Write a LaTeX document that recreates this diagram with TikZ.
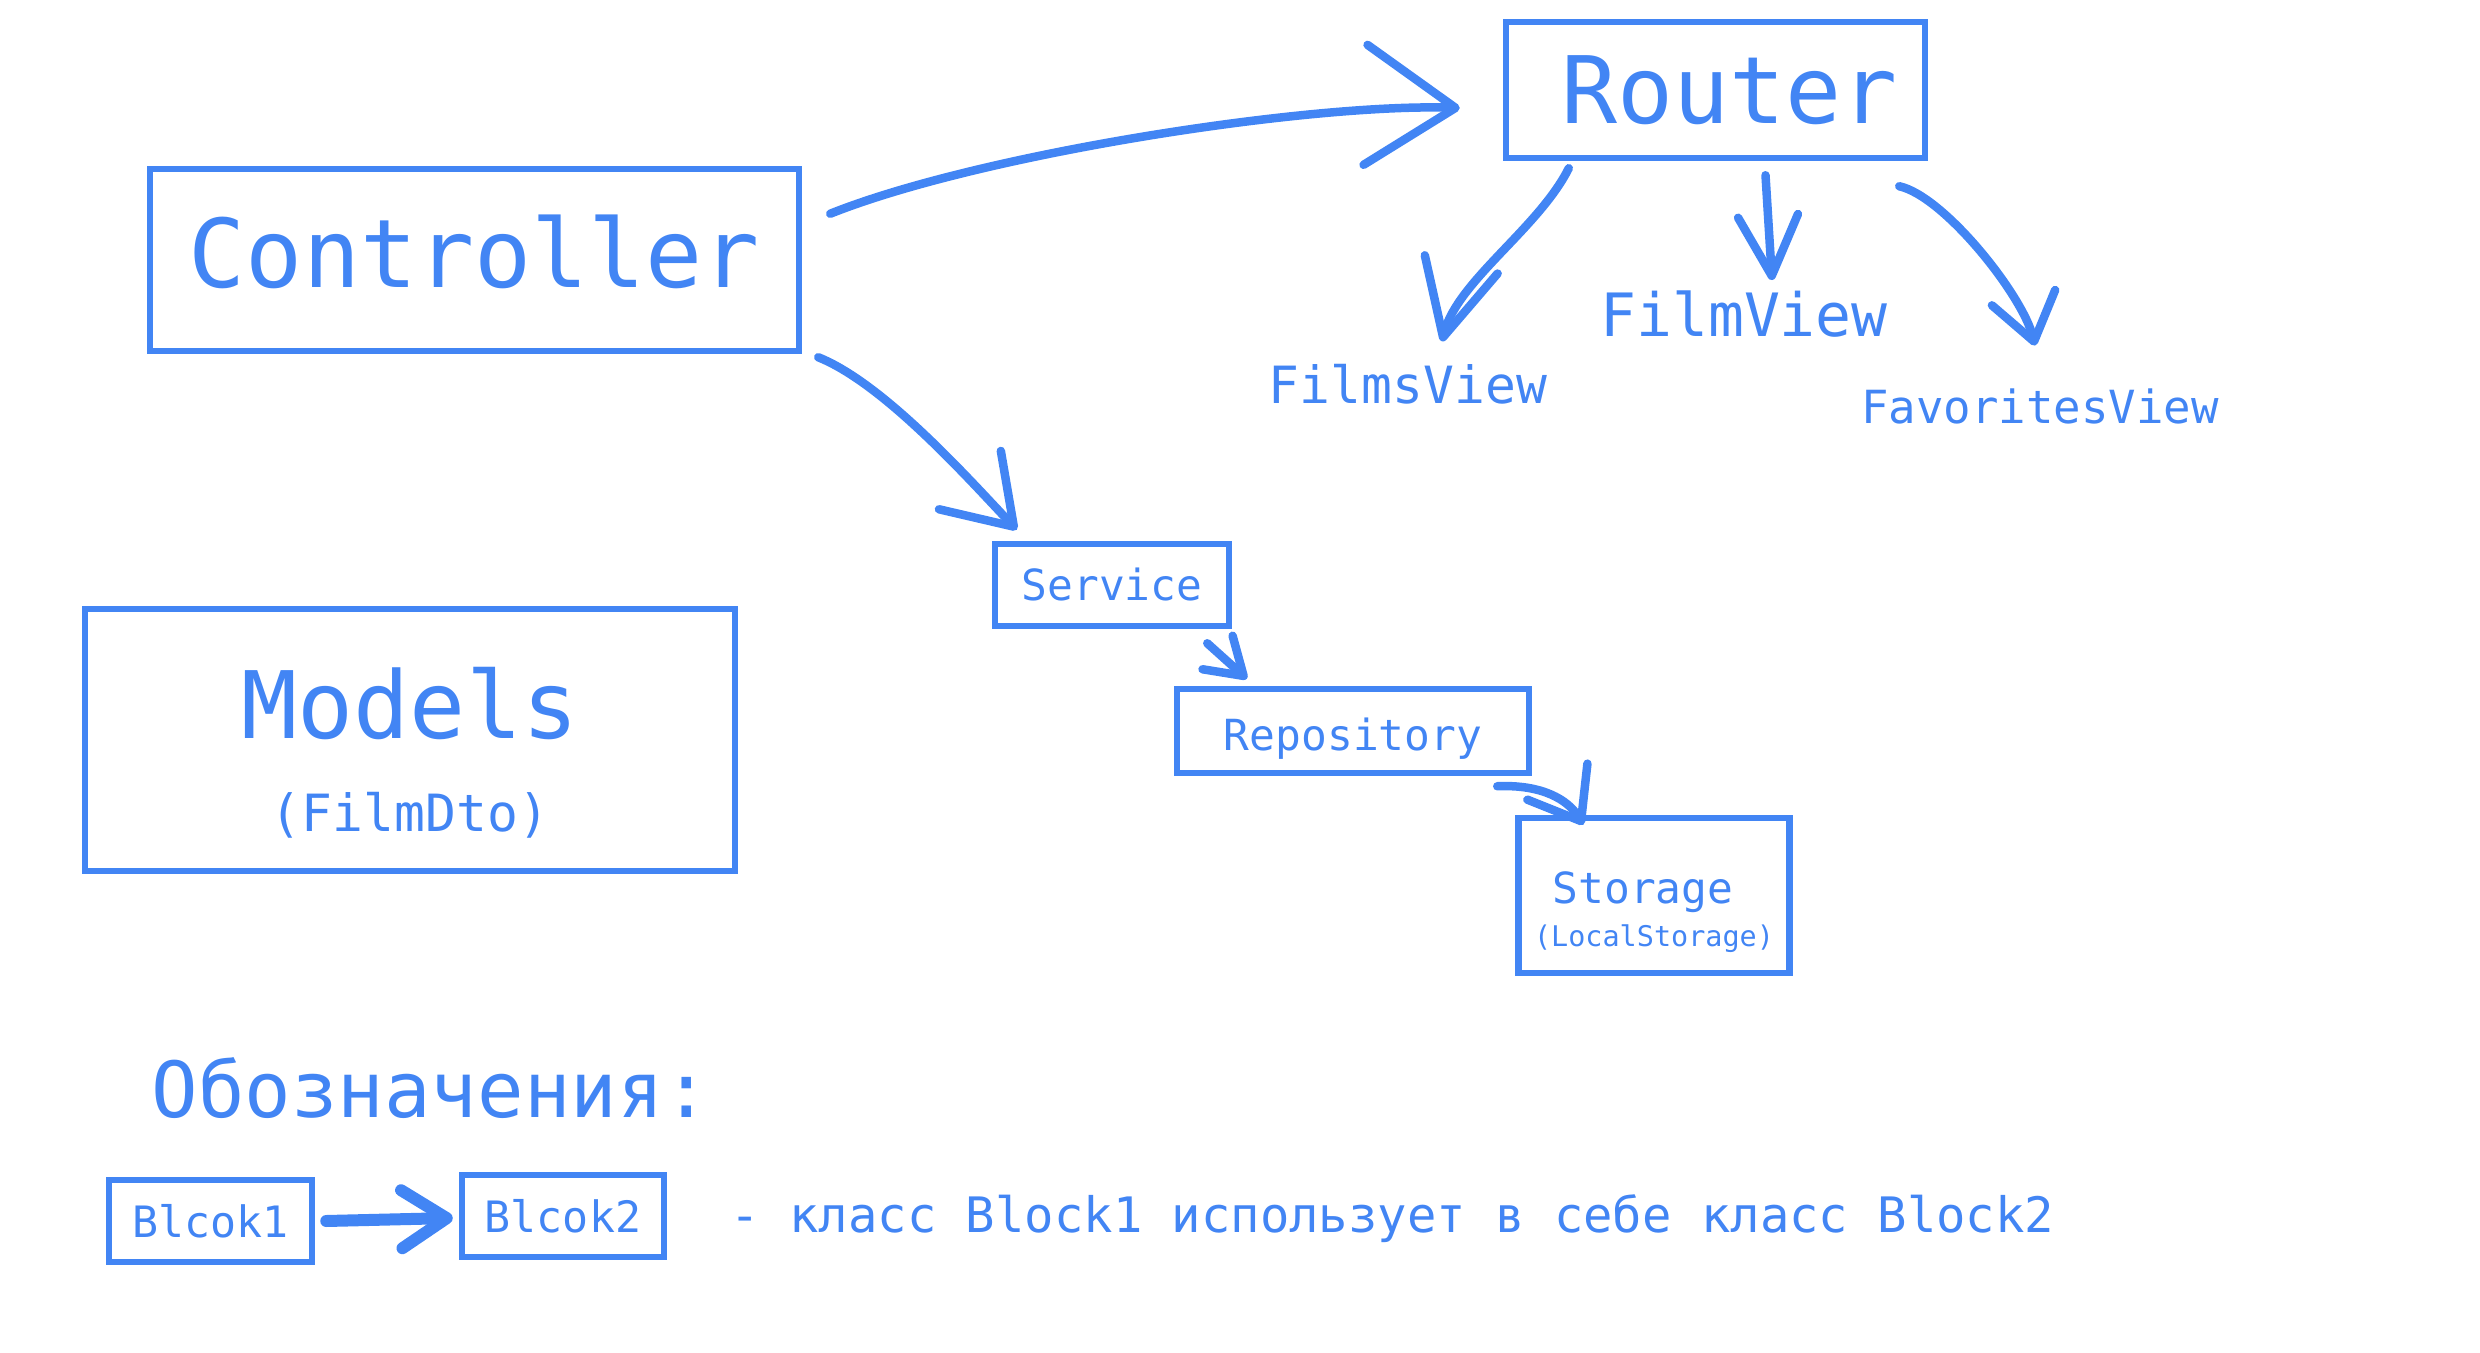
\documentclass[tikz,border=0pt]{standalone}
\usepackage{fontspec}
\setmainfont{DejaVu Sans Mono}
\usetikzlibrary{arrows.meta}
\usetikzlibrary{calc}
\definecolor{gblue}{RGB}{66,133,244}
\newcommand{\fsz}[1]{\fontsize{#1}{#1}\selectfont}
\tikzset{box/.style = {draw=gblue, line width=0.65mm, text=gblue, inner sep=0pt}}
\tikzset{lbl/.style = {text=gblue, inner sep=0pt}}
\tikzset{edge/.style 2 args = {draw=gblue, line width=0.85mm, line cap=round, line join=round,
    -{Straight Barb[round, length=#1, width=#2]}}}

\begin{document}
\begin{tikzpicture}[x=0.1mm, y=-0.1mm]
    \useasboundingbox (0,0) rectangle (2480,1353);

    % Boxes
    \node[box, font=\fsz{27pt}, text depth=1.8mm, minimum width=64.9mm, minimum height=18.2mm] (ctrl) at (474.5,260) {Controller};
    \node[box, font=\fsz{26.5pt}, minimum width=41.9mm, minimum height=13.6mm] (router) at (1715.5,90) {\hspace{2.8mm}Router};
    \node[box, font=\fsz{26.5pt}, minimum width=65mm, minimum height=26.2mm, align=center] (models) at (410,740)
        {\rule{0pt}{27.5pt}Models\\{\fsz{14.6pt}(FilmDto)}};
    \node[box, font=\fsz{12.2pt}, minimum width=23.4mm, minimum height=8.2mm] (service) at (1112,585) {Service};
    \node[box, font=\fsz{12.2pt}, text height=13.8pt, minimum width=35.2mm, minimum height=8.4mm] (repo) at (1353,731) {Repository\hspace{2.2mm}};
    \node[box, font=\fsz{12.2pt}, minimum width=27.1mm, minimum height=15.5mm, align=center] (storage) at (1654,895.5)
        {\rule{0pt}{18.4pt}Storage\hspace*{2.2mm}\\{\fsz{8.1pt}(LocalStorage)}};

    % Views
    \node[lbl, font=\fsz{14.6pt}] (filmsview) at (1408,384) {FilmsView};
    \node[lbl, font=\fsz{17pt}] (filmview) at (1744,314) {FilmView};
    \node[lbl, font=\fsz{13pt}] (favview) at (2040,406) {FavoritesView};

    % Legend
    \node[lbl, font=\fsz{22pt}, anchor=west] (legend) at (151,1088) {Обозначения:};
    \node[box, font=\fsz{12.3pt}, minimum width=20.3mm, minimum height=8.2mm] (blk1) at (210.5,1221) {Blcok1\hspace{0.8mm}};
    \node[box, font=\fsz{12.3pt}, minimum width=20.2mm, minimum height=8.2mm] (blk2) at (563,1216) {Blcok2\hspace{0.6mm}};
    \node[lbl, font=\fsz{13.9pt}, anchor=west] (meaning) at (730,1219) {- класс Block1 использует в себе класс Block2};

    % Connectors
    \draw[edge={9mm}{12mm}] ([shift={(28,48)}]ctrl.north east) .. controls +(150,-60) and +(-150,-5) .. ([shift={(-43,18)}]router.west);
    \draw[edge={6.4mm}{8.5mm}] ([shift={(16,3)}]ctrl.south east) .. controls +(65,26) and +(-50,-53) .. ([shift={(25,-11)}]service.north west);
    \draw[edge={7.5mm}{7.5mm}] ([shift={(66,7)}]router.south west) .. controls +(-30,60) and +(15,-60) .. ([shift={(34,-22)}]filmsview.north);
    \draw[edge={6mm}{6mm}] ([shift={(50,14)}]router.south) -- ([shift={(28,-10)}]filmview.north);
    \draw[edge={4.5mm}{6.5mm}] ([shift={(-29,25)}]router.south east) .. controls +(45,10) and +(-12,-50) .. ([shift={(-5,-42)}]favview.north);
    \draw[edge={3.5mm}{4.5mm}] ([shift={(-25,14)}]service.south east) -- ([shift={(73,-7)}]repo.north west);
    \draw[edge={4.6mm}{7mm}] ([shift={(-35,10)}]repo.south east) .. controls +(45,-2) and +(-15,-25) .. ([shift={(68,10)}]storage.north west);
    \draw[edge={4.5mm}{5.8mm}, line width=1.2mm] ([shift={(11,0)}]blk1.east) -- ([shift={(-6,2)}]blk2.west);
\end{tikzpicture}
\end{document}
